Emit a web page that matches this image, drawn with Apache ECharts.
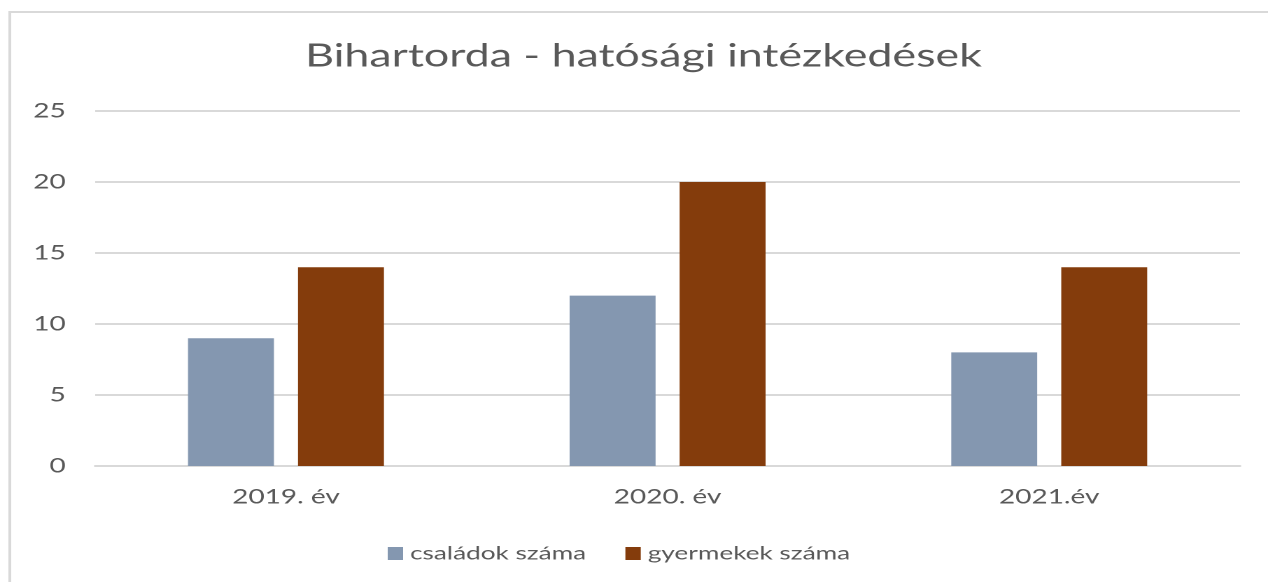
<!DOCTYPE html>
<html>
<head>
<meta charset="utf-8">
<script src="https://cdn.jsdelivr.net/npm/echarts@6/dist/echarts.min.js"></script>
<style>
  html, body { margin: 0; padding: 0; background: #fff; overflow: hidden; }
  /* the original Excel picture is stretched sideways, so we draw narrow and stretch it the same way */
  #main { width: 906px; height: 582px; transform: scaleX(1.39956); transform-origin: 0 0; }
</style>
</head>
<body>
<div id="main"></div>
<script>
// adatok
var categories = ['2019. év', '2020. év', '2021.év'];
var csaladok = [9, 12, 8];
var gyermekek = [14, 20, 14];
var seriesNames = ['családok száma', 'gyermekek száma'];

var chart = echarts.init(document.getElementById('main'), null, { devicePixelRatio: 2 });

var font = 'Lato, "Open Sans", sans-serif';

chart.setOption({
  animation: false,
  title: {
    text: 'Bihartorda - hatósági intézkedések',
    left: 213,
    top: 35,
    textStyle: { fontFamily: font, fontSize: 32, fontWeight: 'normal', color: '#595959' }
  },
  graphic: [{
    type: 'rect',
    shape: { x: 7, y: 12, width: 1000, height: 620 },
    style: { fill: 'none', stroke: '#d9d9d9', lineWidth: 2 }
  }],
  legend: {
    top: 539,
    left: 272,
    icon: 'rect',
    itemWidth: 11,
    itemHeight: 13,
    itemGap: 28,
    textStyle: { fontFamily: font, fontSize: 18.7, color: '#595959' },
    data: seriesNames
  },
  grid: { left: 68, right: 20, top: 111, bottom: 116 },
  xAxis: {
    type: 'category',
    data: categories,
    axisLine: { show: true, lineStyle: { color: '#d9d9d9', width: 2 } },
    axisTick: { show: false },
    axisLabel: { fontFamily: font, fontSize: 20, color: '#595959', margin: 21 }
  },
  yAxis: {
    type: 'value',
    min: 0,
    max: 25,
    interval: 5,
    axisLine: { show: false },
    axisTick: { show: false },
    axisLabel: { fontFamily: font, fontSize: 20, color: '#595959', margin: 21 },
    splitLine: { lineStyle: { color: '#d9d9d9', width: 2 } }
  },
  series: [{
    name: seriesNames[0],
    type: 'bar',
    data: csaladok,
    barWidth: 61.4,
    barGap: '28%',
    itemStyle: { color: '#8497b0' }
  }, {
    name: seriesNames[1],
    type: 'bar',
    data: gyermekek,
    barWidth: 61.4,
    itemStyle: { color: '#843c0c' }
  }]
});
</script>
</body>
</html>
